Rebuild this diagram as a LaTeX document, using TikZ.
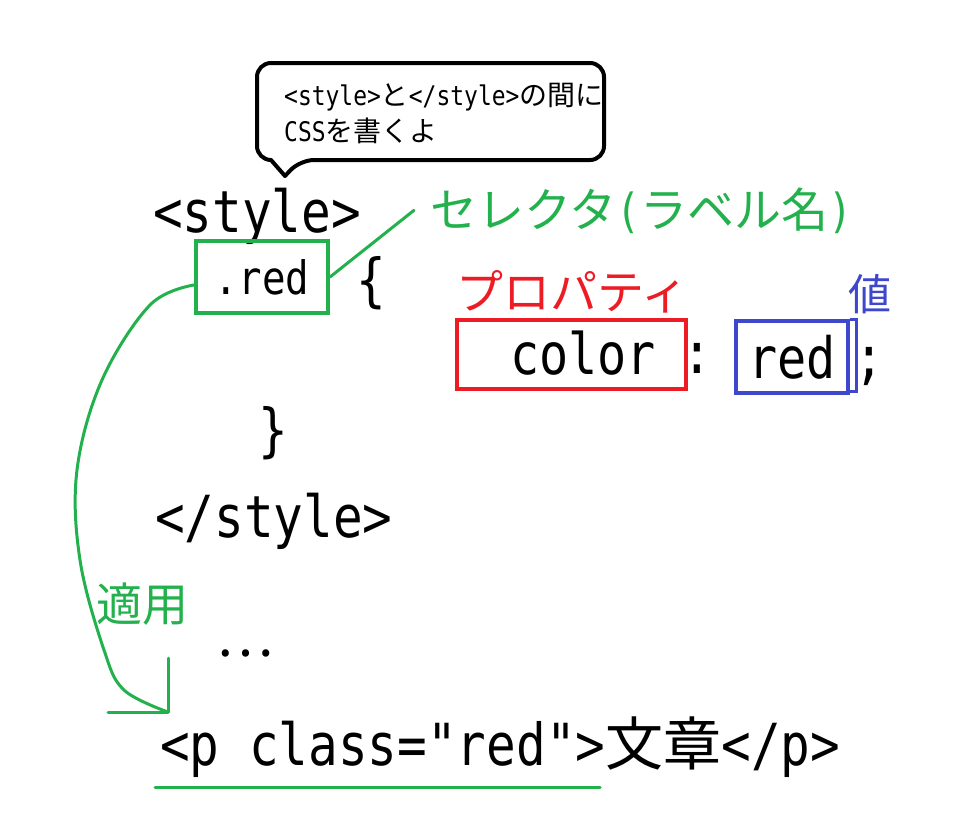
\documentclass[tikz,border=0pt]{standalone}
\usepackage{fontspec}
\newfontfamily\codefont[FakeStretch=0.85]{DejaVu Sans Mono}
\newfontfamily\jpfont{Noto Sans CJK JP}
\usetikzlibrary{positioning, calc}
\definecolor{selgreen}{RGB}{34,177,76}
\definecolor{propred}{RGB}{237,28,36}
\definecolor{valblue}{RGB}{63,72,204}
\newcommand{\bigcode}{\codefont\fontsize{58}{64}\selectfont}
\newcommand{\bigjp}{\jpfont\fontsize{58}{64}\selectfont}
\newcommand{\smcode}{\codefont\fontsize{27}{36}\selectfont}
\newcommand{\smjp}{\jpfont\fontsize{28}{36}\selectfont}
\newcommand{\lblcode}{\codefont\fontsize{47}{47}\selectfont}

\begin{document}
\begin{tikzpicture}[
  x=1pt, y=-1pt,
  code/.style={anchor=base west, inner sep=0pt, font=\bigcode},
  label/.style={anchor=base west, inner sep=0pt},
  markbox/.style={rectangle, draw, line width=4pt, inner sep=0pt},
  greenline/.style={draw=selgreen, line width=3pt, line cap=round, line join=round},
  bubble/.style={draw, line width=4pt, rounded corners=14pt, line join=round}
]
\useasboundingbox (0,0) rectangle (973,819);

% =======================================================
%                     CALLOUT
% =======================================================
\coordinate (bub_nw) at (257,63);
\coordinate (bub_se) at (604,160);
\coordinate (bub_tip) at (285,176);
\draw[bubble] (bub_nw) -- (bub_nw -| bub_se) -- (bub_se) -- (300,160)
  [sharp corners] -- (bub_tip) -- (271,160) [rounded corners=14pt] -- (bub_nw |- bub_se) -- cycle;
\node[label] (note_a) at (284,105)
  {\smcode <style>\smjp と\smcode </style>\smjp の間に};
\node[label] (note_b) at (284,141) {\smcode CSS\smjp を書くよ};

% =======================================================
%                     CODE LINES
% =======================================================
\node[code] (style_open) at (153,232) {<style>};
\node[markbox, draw=selgreen, minimum width=132pt, minimum height=72pt,
      font=\codefont\fontsize{46}{52}\selectfont] (sel_box) at (262,277) {.red};
\node[code] (brace_open) at (356,300) {\{};

\node[markbox, draw=propred, minimum width=229pt, minimum height=69pt] (prop_box) at (571,354) {};
\node[code, font=\codefont\fontsize{57}{62}\selectfont] (prop_text) at (510,374) {color};
\node[code, anchor=base] (colon) at (697,373) {:};
\node[markbox, draw=valblue, minimum width=112pt, minimum height=72pt,
      font=\codefont\fontsize{57}{62}\selectfont] (val_box) at (792,357) {red};
\node[code, anchor=base] (semicolon) at (869,377) {;};

\node[code] (brace_close) at (258,450) {\}};
\node[code] (style_close) at (155,537) {</style>};
\node[label, font=\jpfont\fontsize{54}{54}\selectfont] (dots) at (216,656) {…};
\node[code] (p_line) at (160,765) {<p class="red">{\bigjp 文章}</p>};

% =======================================================
%                     LABELS
% =======================================================
\node[label, text=selgreen, font=\jpfont\fontsize{47}{47}\selectfont] (sel_label) at (430,227)
  {セレクタ{\lblcode (}ラベル名{\lblcode )}};
\node[label, text=propred, font=\jpfont\fontsize{47}{47}\selectfont] (prop_label) at (456,309) {プロパティ};
\node[label, text=valblue, font=\jpfont\fontsize{43}{43}\selectfont] (val_label) at (848,310) {値};
\node[label, text=selgreen, font=\jpfont\fontsize{46}{46}\selectfont] (apply_label) at (96,621) {適用};

% =======================================================
%                     CONNECTIONS
% =======================================================

% selector box -> selector label
\draw[greenline] (sel_box.east) -- ([xshift=-16pt]sel_label.west);

% extra stroke on the value box
\draw[draw=valblue, line width=3pt] (val_box.north east) -- ++(6,0) -- ++(0,72) -- ++(-6,0);

% selector box -> p element (applied)
\coordinate (apply_tip) at (168,712);
\draw[greenline] plot[smooth, tension=0.6] coordinates {
  ([yshift=-8pt]sel_box.west) (150,305) (102,380) (77,470) (80,560)
  (104,650) (124,690) (apply_tip)};
\draw[greenline] (apply_tip) -- ++(0,-54);
\draw[greenline] (apply_tip) -- ++(-60,0);

% underline of the class attribute
\coordinate (ul_start) at (155,787);
\coordinate (ul_end) at (600,787);
\draw[greenline] (ul_start) -- (ul_end);

\end{tikzpicture}
\end{document}
